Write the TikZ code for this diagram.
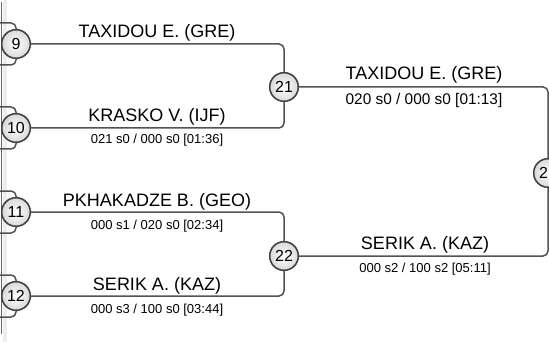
\documentclass[tikz,border=0pt]{standalone}
\usepackage{fontspec}
\setmainfont{Liberation Sans}
\usetikzlibrary{positioning}

\begin{document}
\begin{tikzpicture}[
      x=1pt, y=-1pt,
      mnum/.style={circle, draw=gray!50!black, line width=1.4pt,
                   inner color=white, outer color=gray!30,
                   minimum size=28.5pt, inner sep=0pt,
                   font=\fontsize{16}{16}\selectfont},
      bline/.style={draw=black!68, line width=1.5pt, rounded corners=5pt},
      pname/.style={anchor=base, font=\fontsize{18}{20}\selectfont},
      pres/.style={anchor=base, font=\fontsize{13}{15}\selectfont},
      bres/.style={anchor=base, font=\fontsize{15.4}{17}\selectfont}
    ]
    \useasboundingbox (0,0) rectangle (549,342);
    \clip (0,0) rectangle (549,342);

    %% ---- left edge of the panel ----
    \fill[gray!14] (2.5,0) rectangle (7,342);
    \draw[black!60, line width=1.8pt] (1.5,2) -- (1.5,334);

    %% ---- fixed coordinate layout ----
    %% first column
    \node[mnum] at (16, 44)  (m9)  {9};
    \node[mnum] at (16,128)  (m10) {10};
    \node[mnum] at (16,212)  (m11) {11};
    \node[mnum] at (16,296)  (m12) {12};

    %% second column
    \node[mnum] at (284, 87) (m21) {21};
    \node[mnum] at (284,256) (m22) {22};

    %% third column (cut by the right edge)
    \node[mnum] at (548,173) (m2x) {2\phantom{3}};

    %% ends of the earlier rounds
    \coordinate (p9a)  at (0, 23);  \coordinate (p9b)  at (0, 65);
    \coordinate (p10a) at (0,107);  \coordinate (p10b) at (0,149);
    \coordinate (p11a) at (0,191);  \coordinate (p11b) at (0,233);
    \coordinate (p12a) at (0,275);  \coordinate (p12b) at (0,317);

    %% ---- edges ----
    \foreach \m in {9,10,11,12}{
      \draw[bline] (p\m a) -| (m\m.north);
      \draw[bline] (p\m b) -| (m\m.south);
    }

    %% first round into second round
    \draw[bline] (m9.east)  -- (m9 -| m21)  -- (m21.north);
    \draw[bline] (m10.east) -- (m10 -| m21) -- (m21.south);
    \draw[bline] (m11.east) -- (m11 -| m22) -- (m22.north);
    \draw[bline] (m12.east) -- (m12 -| m22) -- (m22.south);

    %% second round into third round
    \draw[bline] (m21.east) -- (m21 -| m2x) -- (m2x.north);
    \draw[bline] (m22.east) -- (m22 -| m2x) -- (m2x.south);

    %% circles again on top of the lines
    \foreach \m/\t in {9/9,10/10,11/11,12/12,21/21,22/22}{
      \node[mnum] at (m\m) {\t};
    }
    \node[mnum] at (m2x) {2\phantom{3}};

    %% ---- labels ----
    \node[pname] at (157, 38)  (n9)  {TAXIDOU E. (GRE)};
    \node[pname] at (157,122)  (n10) {KRASKO V. (IJF)};
    \node[pres]  at (157,144)  (r10) {021 s0 / 000 s0 [01:36]};
    \node[pname] at (157,206)  (n11) {PKHAKADZE B. (GEO)};
    \node[pres]  at (157,229)  (r11) {000 s1 / 020 s0 [02:34]};
    \node[pname] at (157,290)  (n12) {SERIK A. (KAZ)};
    \node[pres]  at (157,313)  (r12) {000 s3 / 100 s0 [03:44]};

    \node[pname] at (424, 80)  (n21) {TAXIDOU E. (GRE)};
    \node[bres]  at (424,105)  (r21) {020 s0 / 000 s0 [01:13]};
    \node[pname] at (425,249)  (n22) {SERIK A. (KAZ)};
    \node[pres]  at (425,272)  (r22) {000 s2 / 100 s2 [05:11]};

  \end{tikzpicture}
\end{document}
